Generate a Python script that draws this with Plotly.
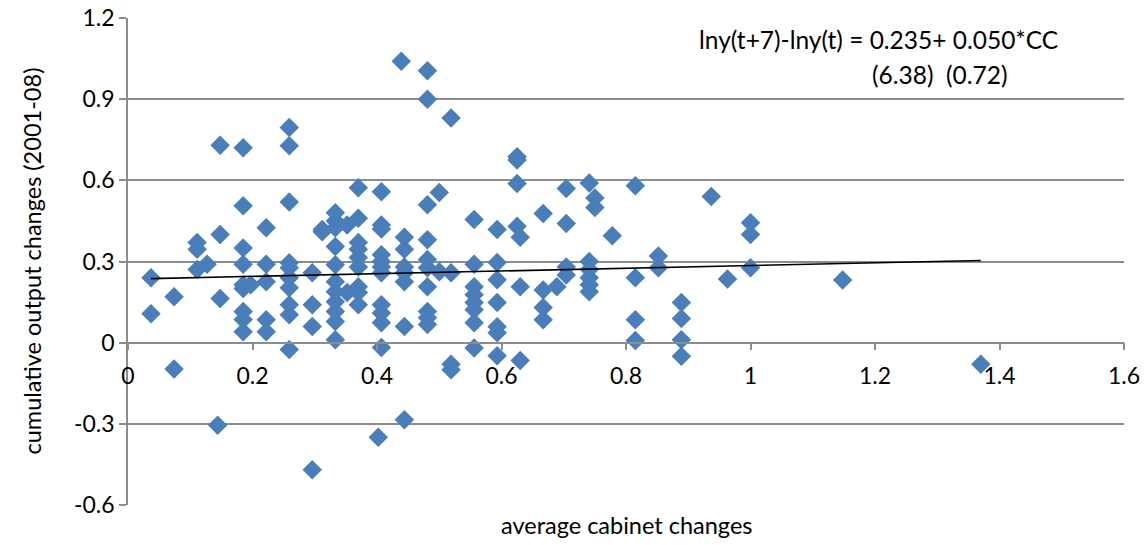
import plotly.graph_objects as go

# average cabinet changes (x) and cumulative output changes 2001-08 (y)
cabinet_changes = [
    0.037, 0.037,
    0.074, 0.074,
    0.111, 0.111, 0.111,
    0.127,
    0.148, 0.148, 0.148, 0.144,
    0.185, 0.185, 0.185, 0.185, 0.185, 0.185, 0.185, 0.185, 0.185,
    0.197,
    0.222, 0.222, 0.222, 0.222, 0.222,
    0.259, 0.259, 0.259, 0.259, 0.259, 0.259, 0.259, 0.259, 0.259, 0.259,
    0.296, 0.296, 0.296, 0.296,
    0.312, 0.312,
    0.333, 0.333, 0.333, 0.333, 0.333, 0.333, 0.333, 0.333, 0.333, 0.333, 0.333,
    0.352, 0.352,
    0.370, 0.370, 0.370, 0.370, 0.370, 0.370, 0.370, 0.370, 0.370,
    0.407, 0.407, 0.407, 0.407, 0.407, 0.407, 0.407, 0.407, 0.407, 0.407, 0.407, 0.402,
    0.439, 0.444, 0.444, 0.444, 0.444, 0.444, 0.444, 0.444,
    0.481, 0.481, 0.481, 0.481, 0.481, 0.481, 0.481, 0.481, 0.481, 0.481,
    0.500, 0.500,
    0.519, 0.519, 0.519, 0.519,
    0.556, 0.556, 0.556, 0.556, 0.556, 0.556, 0.556, 0.556,
    0.593, 0.593, 0.593, 0.593, 0.593, 0.593, 0.593,
    0.625, 0.625, 0.625, 0.625, 0.630, 0.630, 0.630,
    0.667, 0.667, 0.667, 0.667,
    0.689,
    0.704, 0.704, 0.704, 0.704,
    0.741, 0.741, 0.741, 0.741, 0.741, 0.741,
    0.750, 0.750,
    0.778,
    0.815, 0.815, 0.815, 0.815,
    0.852, 0.852,
    0.889, 0.889, 0.889, 0.889,
    0.937,
    0.963,
    1.000, 1.000, 1.000,
    1.148,
    1.370,
]
output_changes = [
    0.240, 0.107,
    0.170, -0.097,
    0.370, 0.345, 0.270,
    0.290,
    0.730, 0.400, 0.163, -0.305,
    0.720, 0.506, 0.350, 0.290, 0.214, 0.200, 0.115, 0.086, 0.040,
    0.214,
    0.425, 0.290, 0.225, 0.085, 0.040,
    0.795, 0.728, 0.520, 0.295, 0.277, 0.240, 0.203, 0.140, 0.103, -0.025,
    0.258, 0.140, 0.060, -0.470,
    0.418, 0.410,
    0.480, 0.450, 0.425, 0.355, 0.288, 0.225, 0.188, 0.151, 0.115, 0.078, 0.011,
    0.435, 0.185,
    0.573, 0.460, 0.370, 0.345, 0.315, 0.280, 0.207, 0.185, 0.140,
    0.558, 0.435, 0.420, 0.325, 0.300, 0.280, 0.258, 0.140, 0.110, 0.074, -0.018, -0.350,
    1.040, 0.390, 0.345, 0.280, 0.258, 0.225, 0.060, -0.285,
    1.005, 0.900, 0.510, 0.380, 0.307, 0.277, 0.207, 0.115, 0.092, 0.067,
    0.555, 0.262,
    0.830, 0.258, -0.080, -0.100,
    0.455, 0.290, 0.207, 0.177, 0.148, 0.122, 0.074, -0.020,
    0.418, 0.296, 0.233, 0.148, 0.059, 0.037, -0.048,
    0.687, 0.675, 0.588, 0.430, 0.390, 0.207, -0.066,
    0.477, 0.195, 0.130, 0.085,
    0.207,
    0.570, 0.440, 0.280, 0.250,
    0.590, 0.300, 0.270, 0.240, 0.214, 0.188,
    0.535, 0.500,
    0.395,
    0.580, 0.240, 0.085, 0.008,
    0.320, 0.277,
    0.148, 0.089, 0.011, -0.050,
    0.540,
    0.235,
    0.443, 0.400, 0.277,
    0.232,
    -0.080,
]

# fitted regression: lny(t+7)-lny(t) = a + b*CC
trend_intercept = 0.235
trend_slope = 0.050

x_ticks = [0, 0.2, 0.4, 0.6, 0.8, 1.0, 1.2, 1.4, 1.6]
x_tick_labels = ["0", "0.2", "0.4", "0.6", "0.8", "1", "1.2", "1.4", "1.6"]
y_ticks = [-0.6, -0.3, 0, 0.3, 0.6, 0.9, 1.2]
y_tick_labels = ["-0.6", "-0.3", "0", "0.3", "0.6", "0.9", "1.2"]

FONT = "Lato, Carlito, Calibri, sans-serif"
GRID = "#8c8c8c"

trend_x = [min(cabinet_changes), max(cabinet_changes)]
trend_y = [trend_intercept + trend_slope * v for v in trend_x]

fig = go.Figure()
fig.add_trace(go.Scatter(
    x=cabinet_changes, y=output_changes, mode="markers",
    marker=dict(symbol="diamond", size=15, color="#4a7ebb", line=dict(width=0)),
    showlegend=False, hoverinfo="x+y",
))
fig.add_trace(go.Scatter(
    x=trend_x, y=trend_y, mode="lines",
    line=dict(color="black", width=1.6),
    showlegend=False, hoverinfo="skip",
))

fig.update_layout(
    width=1146, height=545,
    margin=dict(l=128, r=22, t=18, b=40),
    paper_bgcolor="white", plot_bgcolor="white",
    font=dict(family=FONT, size=23, color="black"),
    xaxis=dict(
        range=[0, 1.6], tickvals=x_ticks, ticktext=x_tick_labels,
        showgrid=False, zeroline=False, automargin=False,
        showline=True, linecolor=GRID, linewidth=1.5,
        ticks="outside", ticklen=7, tickcolor=GRID, tickwidth=1.5,
        ticklabelstandoff=6,
        anchor="free", position=1 / 3,
        tickfont=dict(family=FONT, size=23),
    ),
    yaxis=dict(
        range=[-0.6, 1.2], tickvals=y_ticks, ticktext=y_tick_labels,
        showgrid=True, gridcolor=GRID, gridwidth=1.5, zeroline=False,
        automargin=False,
        showline=True, linecolor=GRID, linewidth=1.5,
        ticks="outside", ticklen=7, tickcolor=GRID, tickwidth=1.5,
        tickfont=dict(family=FONT, size=23),
    ),
    annotations=[
        dict(text="average cabinet changes", xref="paper", yref="paper",
             x=0.5, y=0, yshift=-20, xanchor="center", yanchor="middle",
             showarrow=False, font=dict(family=FONT, size=23.5)),
        dict(text="cumulative output changes (2001-08)", xref="paper", yref="paper",
             x=0, y=0.5, xshift=-97, xanchor="center", yanchor="middle",
             textangle=-90, showarrow=False, font=dict(family=FONT, size=23.5)),
        dict(text="lny(t+7)-lny(t) = 0.235+ 0.050*CC", xref="x", yref="y",
             x=0.914, y=1.12, xanchor="left", yanchor="middle",
             showarrow=False, font=dict(family=FONT, size=24.5)),
        dict(text="(6.38)\u00a0\u00a0(0.72)", xref="x", yref="y",
             x=1.192, y=0.993, xanchor="left", yanchor="middle",
             showarrow=False, font=dict(family=FONT, size=24.5)),
    ],
)

fig.write_html("out.html")
